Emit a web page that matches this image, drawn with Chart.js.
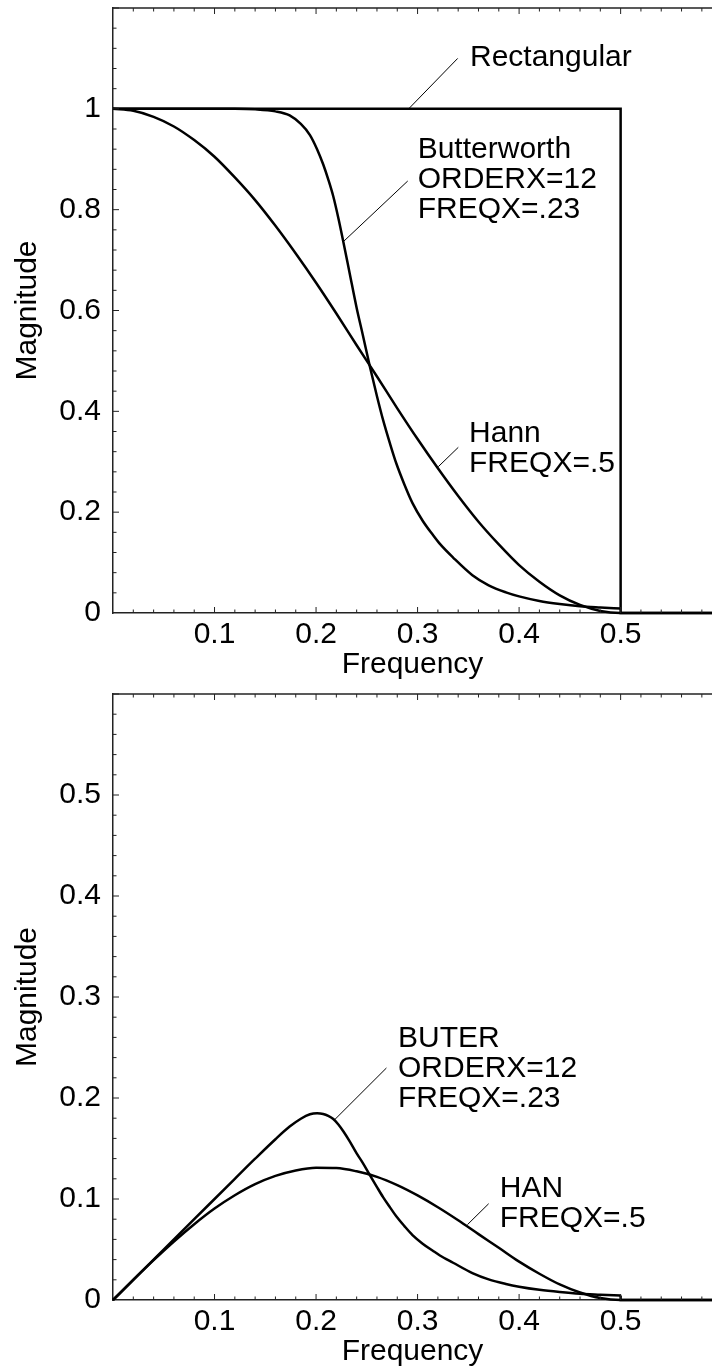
<!DOCTYPE html>
<html>
<head>
<meta charset="utf-8">
<title>Filter magnitude</title>
<style>
    html, body { margin: 0; padding: 0; background: #fff; overflow: hidden; }
    .panel { position: absolute; left: 0; width: 712px; height: 685px; }
</style>
<script src="https://cdn.jsdelivr.net/npm/chart.js"></script>
</head>
<body>
<div class="panel" style="top:0"><canvas id="topChart"></canvas></div>
<div class="panel" style="top:685px"><canvas id="bottomChart"></canvas></div>
<script>
// Butterworth (ORDERX=12, FREQX=.23)
const butterFreq = [0, 0.04, 0.08, 0.12, 0.14, 0.16, 0.174, 0.185, 0.194, 0.201, 0.207, 0.212, 0.217,
    0.222, 0.227, 0.233, 0.240, 0.246, 0.253, 0.260, 0.266, 0.273, 0.279, 0.287, 0.295, 0.305, 0.315,
    0.322, 0.335, 0.354, 0.370, 0.387, 0.400, 0.420, 0.440, 0.460, 0.480, 0.500];
const butterMag = [1, 1, 1, 1, 0.999, 0.995, 0.987, 0.970, 0.948, 0.920, 0.890, 0.860, 0.826,
    0.783, 0.735, 0.675, 0.605, 0.552, 0.489, 0.430, 0.383, 0.335, 0.297, 0.255, 0.218, 0.183, 0.155,
    0.137, 0.110, 0.075, 0.055, 0.041, 0.033, 0.024, 0.018, 0.0135, 0.011, 0.009];
const butterWeighted = [0, 0.040, 0.080, 0.120, 0.1399, 0.1592, 0.1717, 0.1795, 0.1839, 0.1849, 0.1842, 0.1823, 0.1792,
    0.1738, 0.1668, 0.1573, 0.1452, 0.1358, 0.1237, 0.1118, 0.1019, 0.0915, 0.0829, 0.0732, 0.0643, 0.0558, 0.0488,
    0.0441, 0.0369, 0.0266, 0.0204, 0.0159, 0.0132, 0.0101, 0.0079, 0.0062, 0.0053, 0.0045];
// cut-off step of the weighted Butterworth at 0.5
const butterTailFreq = [0.5, 0.5, 0.59];
const butterTailWeighted = [0.0045, 0, 0];

// Hann (FREQX=.5)
const hannFreq = [0, 0.02, 0.04, 0.06, 0.08, 0.10, 0.12, 0.14, 0.16, 0.18, 0.20, 0.22, 0.24, 0.26,
    0.28, 0.30, 0.32, 0.34, 0.36, 0.38, 0.40, 0.42, 0.44, 0.46, 0.48, 0.50, 0.59];
const hannMag = [1, 0.996, 0.984, 0.965, 0.938, 0.905, 0.864, 0.819, 0.768, 0.713, 0.655, 0.594, 0.531, 0.469,
    0.406, 0.345, 0.287, 0.232, 0.181, 0.136, 0.095, 0.062, 0.035, 0.016, 0.004, 0, 0];
const hannWeighted = [0, 0.0199, 0.0394, 0.0579, 0.0750, 0.0905, 0.1037, 0.1147, 0.1229, 0.1283, 0.1310, 0.1307, 0.1274, 0.1219,
    0.1137, 0.1035, 0.0918, 0.0789, 0.0652, 0.0517, 0.0380, 0.0260, 0.0154, 0.0074, 0.0019, 0, 0];

// Ideal rectangular filter
const rectFreq = [0, 0.5, 0.5, 0.59];
const rectMag = [1, 1, 0, 0];

// Tick labels shown
const freqLabels = [0.1, 0.2, 0.3, 0.4, 0.5];
const topMagLabels = [0, 0.2, 0.4, 0.6, 0.8, 1];
const bottomMagLabels = [0, 0.1, 0.2, 0.3, 0.4, 0.5];

const FONT = "'Liberation Sans', Arial, Helvetica, sans-serif";
const INK = '#000';

function toPoints(xs, ys) {
    return xs.map((x, i) => ({ x: x, y: ys[i] }));
}

function curve(xs, ys, smooth) {
    return {
        data: toPoints(xs, ys),
        borderColor: INK,
        borderWidth: 2.5,
        pointRadius: 0,
        tension: smooth ? 0.4 : 0,
        cubicInterpolationMode: smooth ? 'monotone' : 'default',
        fill: false,
        clip: 3
    };
}

// inward ticks on left, bottom and top edges + top frame line
const frameTicks = {
    id: 'frameTicks',
    afterDraw(chart, args, opts) {
        const { ctx, chartArea: a, scales: { x, y } } = chart;
        const line = (x1, y1, x2, y2) => {
            ctx.beginPath();
            ctx.moveTo(x1, y1);
            ctx.lineTo(x2, y2);
            ctx.stroke();
        };
        ctx.save();
        ctx.strokeStyle = '#222';
        ctx.lineWidth = 1.5;
        line(a.left, a.top, a.right, a.top);

        ctx.lineWidth = 1;
        const n = Math.round(x.max / opts.xMinor);
        for (let i = 1; i <= n; i++) {
            const v = i * opts.xMinor;
            if (v > x.max + 1e-9) break;
            const major = Math.abs(v / opts.xMajor - Math.round(v / opts.xMajor)) < 1e-6;
            const len = major ? 6 : 3.5;
            const p = x.getPixelForValue(v);
            line(p, a.bottom, p, a.bottom - len);
            line(p, a.top, p, a.top + len);
        }
        const m = Math.round(y.max / opts.yMinor);
        for (let i = 1; i <= m; i++) {
            const v = i * opts.yMinor;
            const major = Math.abs(v / opts.yMajor - Math.round(v / opts.yMajor)) < 1e-6;
            const len = major ? 6 : 3.5;
            const p = y.getPixelForValue(v);
            line(a.left, p, a.left + len, p);
        }
        ctx.restore();
    }
};

// curve labels with leader lines, placed in data units
const curveNotes = {
    id: 'curveNotes',
    afterDraw(chart, args, opts) {
        const { ctx, scales: { x, y } } = chart;
        ctx.save();
        ctx.strokeStyle = INK;
        ctx.fillStyle = INK;
        ctx.lineWidth = 1;
        ctx.font = `30px ${FONT}`;
        ctx.textAlign = 'left';
        ctx.textBaseline = 'middle';
        opts.notes.forEach(note => {
            const [p0, p1] = note.leader;
            ctx.beginPath();
            ctx.moveTo(x.getPixelForValue(p0[0]), y.getPixelForValue(p0[1]));
            ctx.lineTo(x.getPixelForValue(p1[0]), y.getPixelForValue(p1[1]));
            ctx.stroke();
            const tx = x.getPixelForValue(note.at[0]);
            const ty = y.getPixelForValue(note.at[1]);
            note.lines.forEach((txt, i) => ctx.fillText(txt, tx, ty + i * 30));
        });
        ctx.restore();
    }
};

function makeChart(id, datasets, cfg) {
    return new Chart(document.getElementById(id), {
        type: 'line',
        data: { datasets: datasets },
        plugins: [frameTicks, curveNotes],
        options: {
            responsive: true,
            maintainAspectRatio: false,
            animation: false,
            events: [],
            layout: { padding: { top: cfg.padTop, right: 0, left: 0, bottom: 0 } },
            plugins: {
                legend: { display: false },
                tooltip: { enabled: false },
                frameTicks: { xMinor: 0.02, xMajor: 0.1, yMinor: cfg.yMinor, yMajor: cfg.yStep },
                curveNotes: { notes: cfg.notes }
            },
            scales: {
                x: {
                    type: 'linear',
                    min: 0,
                    max: 0.59,
                    grid: { display: false, drawTicks: false },
                    border: { display: true, color: '#222', width: 1.5 },
                    ticks: {
                        stepSize: 0.1,
                        includeBounds: false,
                        autoSkip: false,
                        maxRotation: 0,
                        padding: 4,
                        color: INK,
                        font: { family: FONT, size: 30 },
                        callback: v => freqLabels.some(t => Math.abs(t - v) < 1e-6) ? String(+v.toFixed(2)) : ''
                    },
                    title: {
                        display: true,
                        text: 'Frequency',
                        color: INK,
                        font: { family: FONT, size: 30 },
                        padding: { top: 0, bottom: cfg.titlePad }
                    },
                    afterFit: s => {
                        s.height = cfg.xHeight;
                        s.paddingLeft = 0;
                        s.paddingRight = 0;
                    }
                },
                y: {
                    type: 'linear',
                    min: 0,
                    max: cfg.yMax,
                    grid: { display: false, drawTicks: false },
                    border: { display: true, color: '#222', width: 1.5 },
                    ticks: {
                        stepSize: cfg.yStep,
                        autoSkip: false,
                        padding: 12,
                        color: INK,
                        font: { family: FONT, size: 30 },
                        callback: v => cfg.yLabels.some(t => Math.abs(t - v) < 1e-6) ? String(+v.toFixed(2)) : ''
                    },
                    title: {
                        display: true,
                        text: 'Magnitude',
                        color: INK,
                        font: { family: FONT, size: 30 },
                        padding: { top: 10, bottom: 0 }
                    },
                    afterFit: s => {
                        s.width = 113;
                        s.paddingTop = 0;
                        s.paddingBottom = 0;
                    }
                }
            }
        }
    });
}

makeChart('topChart', [
    curve(rectFreq, rectMag, false),
    curve(butterFreq, butterMag, true),
    curve(hannFreq, hannMag, true)
], {
    padTop: 8,
    xHeight: 72,
    titlePad: 2,
    yMax: 1.2,
    yStep: 0.2,
    yMinor: 0.04,
    yLabels: topMagLabels,
    notes: [
        { lines: ['Rectangular'], at: [0.3516, 1.1017], leader: [[0.2912, 1.0], [0.3395, 1.100]] },
        { lines: ['Butterworth', 'ORDERX=12', 'FREQX=.23'], at: [0.3001, 0.9183], leader: [[0.2268, 0.7364], [0.2903, 0.8568]] },
        { lines: ['Hann', 'FREQX=.5'], at: [0.3507, 0.3564], leader: [[0.3204, 0.2902], [0.3401, 0.3286]] }
    ]
});

makeChart('bottomChart', [
    curve(butterFreq, butterWeighted, true),
    curve(butterTailFreq, butterTailWeighted, false),
    curve(hannFreq, hannWeighted, true)
], {
    padTop: 9,
    xHeight: 70,
    titlePad: 0,
    yMax: 0.6,
    yStep: 0.1,
    yMinor: 0.02,
    yLabels: bottomMagLabels,
    notes: [
        { lines: ['BUTER', 'ORDERX=12', 'FREQX=.23'], at: [0.2807, 0.2589], leader: [[0.2183, 0.1785], [0.2693, 0.2297]] },
        { lines: ['HAN', 'FREQX=.5'], at: [0.3809, 0.1102], leader: [[0.3491, 0.0746], [0.3700, 0.0953]] }
    ]
});
</script>
</body>
</html>
